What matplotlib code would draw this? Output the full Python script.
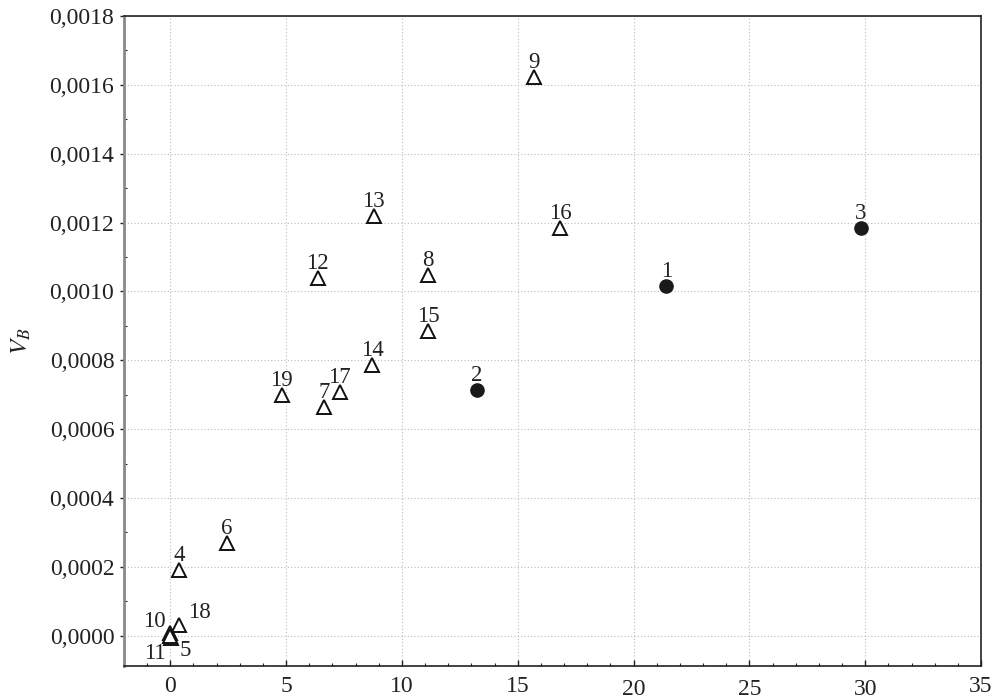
import matplotlib
matplotlib.use("Agg")
import matplotlib.pyplot as plt
import matplotlib.transforms as mtransforms
from matplotlib.ticker import FuncFormatter, MultipleLocator

# ---- data ----
point_ids = ["1", "2", "3", "4", "5", "6", "7", "8", "9", "10",
             "11", "12", "13", "14", "15", "16", "17", "18", "19"]
x_vals = [21.42, 13.24, 29.81, 0.39, 0.02, 2.43, 6.65, 11.14, 15.70, -0.03,
          -0.02, 6.36, 8.78, 8.71, 11.14, 16.83, 7.31, 0.39, 4.81]
y_vals = [0.001015, 0.000713, 0.001184, 0.000191, -0.000008, 0.000270, 0.000665,
          0.001047, 0.001624, 0.000008, -0.000002, 0.001038, 0.001219, 0.000786,
          0.000885, 0.001184, 0.000708, 0.000032, 0.000699]
filled_ids = ["1", "2", "3"]          # drawn as filled circles, rest open triangles
x_ticks = [0, 5, 10, 15, 20, 25, 30, 35]
y_ticks = [0.0, 0.0002, 0.0004, 0.0006, 0.0008, 0.0010, 0.0012, 0.0014, 0.0016, 0.0018]
y_label = "$V_B$"

# ---- style ----
plt.rcParams["font.family"] = ["Liberation Serif", "DejaVu Serif"]
plt.rcParams["mathtext.fontset"] = "stix"

fig = plt.figure(figsize=(10.01, 6.98), dpi=100)
ax = fig.add_axes([124 / 1001, 32 / 698, (981 - 124) / 1001, (666 - 16) / 698])

tri_x = [x for x, p in zip(x_vals, point_ids) if p not in filled_ids]
tri_y = [y for y, p in zip(y_vals, point_ids) if p not in filled_ids]
cir_x = [x for x, p in zip(x_vals, point_ids) if p in filled_ids]
cir_y = [y for y, p in zip(y_vals, point_ids) if p in filled_ids]

ax.plot(tri_x, tri_y, linestyle="none", marker="^", markersize=10,
        markerfacecolor="white", markeredgecolor="#111111", markeredgewidth=1.4, zorder=3)
ax.plot(cir_x, cir_y, linestyle="none", marker="o", markersize=9.5,
        markerfacecolor="#1a1a1a", markeredgecolor="#1a1a1a", zorder=3)

# label placement (offset in points, alignment)
default_place = ((0, 6.5), "center", "baseline")
special_place = {
    "10": ((-3, 1), "right", "bottom"),
    "11": ((-3, -5), "right", "top"),
    "5": ((6, -1), "left", "top"),
    "18": ((6, 1.5), "left", "bottom"),
}
for pid, x, y in zip(point_ids, x_vals, y_vals):
    (dx, dy), ha, va = special_place.get(pid, default_place)
    ax.annotate(pid, (x, y), xytext=(dx, dy), textcoords="offset points",
                ha=ha, va=va, fontsize=16.5, color="#222222", zorder=4)

ax.set_xlim(-2, 35)
ax.set_ylim(-0.000088, 0.0018)
ax.set_xticks(x_ticks)
ax.set_yticks(y_ticks)
ax.xaxis.set_minor_locator(MultipleLocator(1))
ax.yaxis.set_minor_locator(MultipleLocator(0.0001))
ax.yaxis.set_major_formatter(FuncFormatter(lambda v, pos: f"{v:.4f}".replace(".", ",").replace("-0,0000", "0,0000")))
ax.xaxis.set_major_formatter(FuncFormatter(lambda v, pos: f"{v:g}"))

ax.grid(True, which="major", linestyle=(0, (1, 2)), color="#bbbbbb", linewidth=0.8)
ax.set_axisbelow(True)

ax.tick_params(axis="x", which="major", direction="in", length=4, width=1, labelsize=17, pad=7, colors="#222222")
ax.tick_params(axis="x", which="minor", direction="in", length=2.5, width=0.8, colors="#222222")
ax.tick_params(axis="y", which="major", direction="out", length=3, width=1, labelsize=17, pad=4, colors="#222222")
ax.tick_params(axis="y", which="minor", direction="in", length=2.5, width=0.8, colors="#222222")

for side in ["top", "right", "bottom"]:
    ax.spines[side].set_color("#222222")
    ax.spines[side].set_linewidth(1.2)
ax.spines["left"].set_color("#888888")
ax.spines["left"].set_linewidth(2)

# the reference prints the 20/25/30 labels slightly lower
fig.canvas.draw()
shift = mtransforms.ScaledTranslation(0, -3 / 100, fig.dpi_scale_trans)
for lab in ax.get_xticklabels():
    if lab.get_text() in ("20", "25", "30"):
        lab.set_transform(lab.get_transform() + shift)

ax.set_ylabel(y_label, fontsize=18, labelpad=12, color="#222222")

fig.savefig("out.png", dpi=100)
